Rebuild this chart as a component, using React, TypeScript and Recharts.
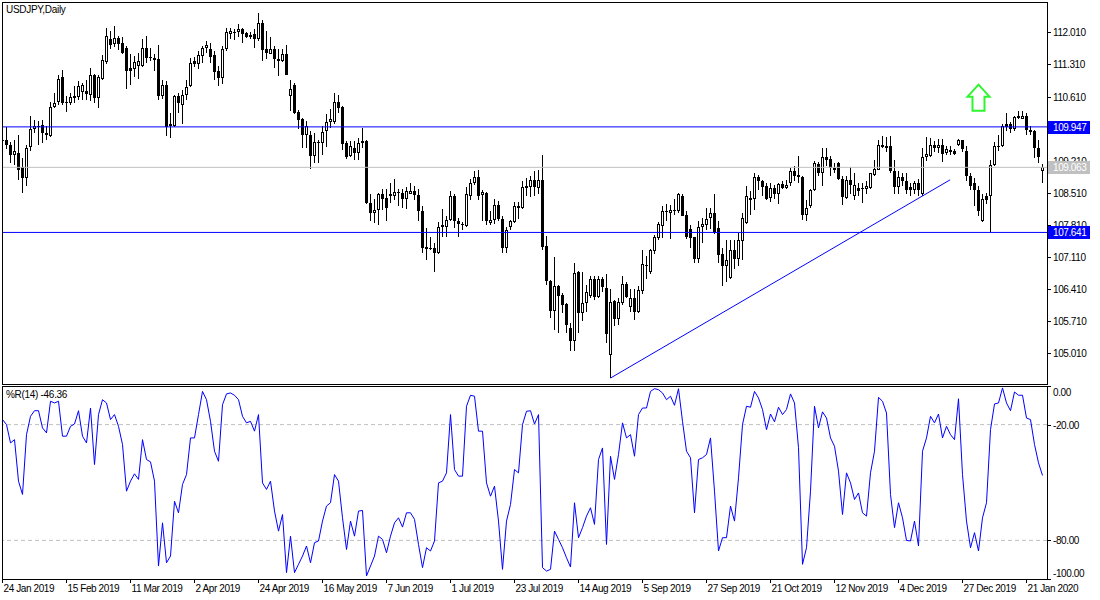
import React from "react";
import { ComposedChart, Bar, Line, XAxis, YAxis, ReferenceLine, ReferenceDot } from "recharts";

// daily USDJPY bars, left to right
const opens = [
  109.66, 109.65, 109.55, 109.33, 109.38, 109.07, 108.84, 109.50, 109.89, 109.97,
  109.99, 109.82, 109.74, 110.38, 110.48, 111.03, 110.50, 110.46, 110.57, 110.60,
  110.70, 110.72, 110.65, 111.07, 110.57, 111.00, 111.36, 111.87, 111.75, 111.89,
  111.78, 111.68, 111.24, 111.22, 111.27, 111.27, 111.68, 111.48, 111.46, 111.42,
  110.63, 110.87, 110.02, 109.97, 110.63, 110.43, 110.64, 110.84, 111.38, 111.33,
  111.49, 111.67, 111.65, 111.51, 111.16, 111.01, 111.65, 111.98, 112.02, 112.02,
  112.09, 112.00, 111.96, 111.97, 111.87, 112.21, 111.64, 111.54, 111.65, 111.43,
  111.38, 111.53, 110.62, 110.87, 110.27, 110.11, 109.76, 109.78, 109.30, 109.60,
  109.60, 109.85, 110.05, 110.05, 110.49, 110.38, 109.60, 109.32, 109.49, 109.38,
  109.60, 109.63, 108.28, 108.07, 108.14, 108.47, 108.39, 108.49, 108.43, 108.53,
  108.50, 108.38, 108.49, 108.55, 108.46, 108.12, 107.28, 107.30, 107.30, 107.19,
  107.77, 107.77, 107.92, 108.44, 107.90, 107.82, 107.79, 108.43, 108.72, 108.85,
  108.46, 108.50, 107.85, 107.92, 108.25, 107.93, 107.30, 107.77, 107.86, 108.22,
  108.17, 108.61, 108.63, 108.79, 108.61, 108.79, 107.35, 106.59, 105.93, 106.48,
  106.28, 106.08, 105.55, 105.28, 106.77, 105.89, 106.11, 106.26, 106.62, 106.23,
  106.62, 106.43, 104.97, 106.15, 105.75, 106.11, 106.52, 106.02, 106.21, 105.91,
  106.37, 106.94, 106.77, 107.23, 107.52, 107.79, 108.09, 108.07, 108.10, 108.10,
  108.44, 108.03, 107.72, 107.54, 107.06, 107.76, 107.80, 107.95, 108.07, 107.74,
  107.18, 106.90, 106.64, 107.25, 107.06, 107.46, 107.85, 108.34, 108.38, 108.85,
  108.76, 108.66, 108.39, 108.61, 108.49, 108.71, 108.61, 108.72, 108.98, 108.90,
  108.85, 108.03, 108.21, 108.56, 109.14, 108.95, 109.29, 109.25, 109.05, 109.16,
  108.81, 108.39, 108.79, 108.44, 108.61, 108.61, 108.59, 108.61, 108.90, 109.01,
  109.51, 109.52, 109.54, 108.98, 108.63, 108.85, 108.76, 108.63, 108.56, 108.72,
  108.47, 109.29, 109.30, 109.56, 109.49, 109.56, 109.38, 109.45, 109.41, 109.56,
  109.65, 109.41, 108.88, 108.73, 108.56, 107.88, 108.43, 108.43, 109.12, 109.54,
  109.52, 110.00, 110.00, 109.90, 110.18, 110.12, 110.19, 109.87, 109.85, 109.49,
  108.98,
];
const highs = [
  109.72, 109.95, 109.61, 109.67, 109.76, 109.27, 109.56, 110.18, 110.09, 110.07,
  110.09, 109.96, 110.48, 110.68, 111.07, 111.18, 110.62, 110.68, 110.85, 110.94,
  110.91, 110.98, 111.24, 111.11, 111.09, 111.51, 112.11, 112.04, 112.16, 111.94,
  111.92, 111.71, 111.53, 111.49, 111.57, 111.86, 111.93, 111.68, 111.53, 111.73,
  110.97, 110.94, 110.25, 110.65, 110.68, 110.76, 110.97, 111.46, 111.48, 111.60,
  111.71, 111.83, 111.77, 111.60, 111.27, 111.71, 112.11, 112.11, 112.09, 112.19,
  112.10, 112.02, 112.02, 112.08, 112.43, 112.28, 112.04, 111.92, 111.71, 111.64,
  111.65, 111.73, 110.98, 110.90, 110.31, 110.14, 110.07, 109.85, 109.82, 109.67,
  109.96, 110.22, 110.33, 110.69, 110.65, 110.40, 109.63, 109.63, 109.63, 109.71,
  109.92, 109.65, 108.47, 108.37, 108.50, 108.58, 108.59, 108.73, 108.81, 108.58,
  108.59, 108.63, 108.73, 108.66, 108.59, 108.21, 107.74, 107.54, 107.42, 107.86,
  108.15, 107.99, 108.54, 108.49, 107.96, 107.86, 108.63, 108.81, 108.98, 109.01,
  108.56, 108.52, 108.12, 108.37, 108.32, 108.01, 107.77, 107.92, 108.30, 108.31,
  108.76, 108.83, 108.87, 108.98, 109.01, 109.34, 107.57, 106.61, 107.10, 106.50,
  106.32, 106.10, 105.66, 106.97, 106.79, 106.77, 106.50, 106.69, 106.69, 106.68,
  106.67, 106.74, 106.40, 106.17, 106.21, 106.69, 106.55, 106.40, 106.40, 106.48,
  107.25, 107.12, 107.28, 107.59, 107.86, 108.22, 108.27, 108.25, 108.37, 108.50,
  108.49, 108.10, 107.81, 107.55, 107.90, 107.96, 108.17, 108.17, 108.49, 107.90,
  107.30, 107.48, 107.47, 107.47, 107.63, 108.07, 108.65, 108.54, 108.93, 108.90,
  108.79, 108.72, 108.72, 108.68, 108.73, 108.76, 108.78, 109.05, 109.09, 109.30,
  108.87, 108.36, 108.59, 109.20, 109.17, 109.49, 109.49, 109.32, 109.16, 109.17,
  108.87, 108.87, 109.07, 108.93, 108.73, 108.73, 108.76, 108.95, 109.23, 109.67,
  109.74, 109.73, 109.74, 109.23, 108.98, 108.94, 108.94, 108.73, 108.76, 108.81,
  109.49, 109.73, 109.71, 109.63, 109.68, 109.68, 109.52, 109.54, 109.47, 109.68,
  109.67, 109.52, 108.93, 108.83, 108.65, 108.47, 108.50, 109.23, 109.61, 109.78,
  110.00, 110.24, 110.05, 110.19, 110.29, 110.29, 110.24, 109.96, 109.87, 109.67,
  109.14,
];
const lows = [
  109.55, 109.47, 109.16, 109.12, 108.79, 108.50, 108.65, 109.43, 109.82, 109.56,
  109.60, 109.65, 109.72, 110.36, 110.43, 110.43, 110.27, 110.43, 110.46, 110.53,
  110.54, 110.54, 110.51, 110.47, 110.36, 110.98, 111.33, 111.64, 111.70, 111.62,
  111.53, 110.78, 110.87, 111.04, 111.00, 111.25, 111.35, 111.38, 111.16, 110.54,
  110.56, 109.74, 109.71, 109.94, 110.25, 110.02, 110.53, 110.82, 111.25, 111.22,
  111.35, 111.57, 111.35, 110.98, 110.84, 110.89, 111.60, 111.87, 111.84, 111.92,
  111.78, 111.89, 111.86, 111.68, 111.82, 111.38, 111.42, 111.53, 111.24, 111.05,
  111.36, 111.07, 110.29, 110.22, 109.89, 109.49, 109.49, 109.03, 109.16, 109.16,
  109.34, 109.51, 109.92, 110.02, 110.25, 109.45, 109.25, 109.28, 109.22, 109.23,
  109.49, 108.27, 107.88, 107.85, 107.81, 108.14, 107.88, 108.28, 108.36, 108.21,
  108.18, 108.15, 108.47, 108.36, 107.88, 107.19, 107.04, 107.25, 106.77, 107.17,
  107.55, 107.55, 107.88, 107.74, 107.54, 107.70, 107.76, 108.36, 108.68, 108.34,
  107.88, 107.81, 107.81, 107.83, 107.90, 107.20, 107.20, 107.70, 107.85, 107.93,
  108.15, 108.43, 108.42, 108.44, 108.49, 107.26, 106.50, 105.77, 105.50, 105.45,
  105.88, 105.44, 105.04, 105.06, 105.44, 105.70, 105.91, 106.21, 106.17, 106.21,
  106.33, 105.23, 104.46, 105.59, 105.62, 106.06, 106.21, 105.91, 105.72, 105.88,
  106.30, 106.62, 106.74, 107.18, 107.48, 107.52, 107.90, 107.50, 108.03, 108.07,
  107.99, 107.50, 107.30, 106.97, 106.97, 107.42, 107.70, 107.72, 107.60, 106.97,
  106.48, 106.55, 106.62, 106.84, 106.91, 107.03, 107.83, 108.03, 108.14, 108.56,
  108.43, 108.36, 108.30, 108.37, 108.27, 108.59, 108.59, 108.65, 108.76, 108.72,
  107.92, 107.88, 108.18, 108.54, 108.88, 108.66, 109.09, 108.88, 108.94, 108.79,
  108.23, 108.37, 108.47, 108.36, 108.43, 108.28, 108.49, 108.59, 108.87, 109.00,
  109.49, 109.39, 108.94, 108.47, 108.47, 108.65, 108.47, 108.44, 108.47, 108.44,
  108.43, 109.20, 109.29, 109.39, 109.38, 109.17, 109.34, 109.34, 109.34, 109.52,
  109.39, 108.76, 108.56, 108.21, 107.99, 107.86, 108.27, 107.64, 109.10, 109.43,
  109.51, 109.85, 109.82, 109.85, 110.11, 110.11, 109.78, 109.78, 109.27, 109.16,
  108.73,
];
const closes = [
  109.63, 109.56, 109.33, 109.41, 109.01, 108.84, 109.49, 109.89, 109.97, 109.95,
  109.82, 109.76, 110.38, 110.47, 111.00, 110.46, 110.46, 110.60, 110.63, 110.84,
  110.87, 110.66, 111.07, 110.57, 111.03, 111.40, 111.94, 111.73, 111.89, 111.76,
  111.57, 111.16, 111.16, 111.36, 111.38, 111.68, 111.46, 111.45, 111.40, 110.63,
  110.87, 109.95, 109.96, 110.63, 110.47, 110.65, 110.82, 111.35, 111.32, 111.51,
  111.68, 111.73, 111.48, 111.14, 111.01, 111.65, 112.03, 112.04, 112.03, 112.08,
  111.97, 111.92, 111.92, 111.87, 112.21, 111.62, 111.57, 111.65, 111.43, 111.38,
  111.53, 111.09, 110.78, 110.25, 110.09, 109.76, 109.97, 109.30, 109.62, 109.61,
  109.83, 110.05, 110.12, 110.49, 110.36, 109.58, 109.29, 109.54, 109.38, 109.60,
  109.63, 108.28, 108.07, 108.14, 108.47, 108.37, 108.18, 108.43, 108.53, 108.50,
  108.38, 108.55, 108.55, 108.46, 108.10, 107.30, 107.32, 107.31, 107.19, 107.77,
  107.81, 107.92, 108.44, 107.88, 107.83, 107.83, 108.47, 108.73, 108.85, 108.44,
  108.52, 107.88, 107.92, 108.25, 107.93, 107.30, 107.70, 107.88, 108.21, 108.17,
  108.63, 108.66, 108.79, 108.63, 108.78, 107.33, 106.59, 105.93, 106.48, 106.26,
  106.06, 105.62, 105.28, 106.75, 105.89, 106.11, 106.35, 106.62, 106.23, 106.62,
  106.45, 105.42, 106.12, 105.75, 106.12, 106.52, 106.23, 106.21, 105.91, 106.39,
  106.96, 106.90, 107.25, 107.55, 107.83, 108.10, 108.12, 108.14, 108.13, 108.47,
  108.01, 107.55, 107.52, 107.06, 107.77, 107.83, 107.93, 108.07, 107.63, 107.15,
  106.90, 107.04, 107.25, 107.06, 107.48, 107.96, 108.44, 108.39, 108.85, 108.76,
  108.63, 108.38, 108.61, 108.49, 108.71, 108.61, 108.68, 108.98, 108.88, 108.85,
  108.03, 108.17, 108.56, 109.16, 108.95, 109.29, 109.22, 109.05, 109.00, 108.81,
  108.42, 108.79, 108.68, 108.68, 108.54, 108.58, 108.66, 108.93, 109.03, 109.56,
  109.56, 109.49, 108.98, 108.63, 108.85, 108.76, 108.56, 108.56, 108.72, 108.56,
  109.29, 109.36, 109.56, 109.49, 109.56, 109.36, 109.47, 109.39, 109.36, 109.65,
  109.47, 108.87, 108.65, 108.56, 108.10, 108.37, 108.36, 109.12, 109.54, 109.51,
  109.96, 109.95, 109.90, 110.17, 110.14, 110.19, 109.87, 109.83, 109.49, 109.29,
  109.063,
];
// Williams %R(14)
const wpr = [
  -17.4, -20.0, -29.5, -27.8, -49.3, -56.2, -25.2, -15.7, -12.8, -12.8,
  -21.7, -24.3, -7.9, -8.8, -7.9, -26.0, -26.0, -20.9, -19.7, -12.8,
  -26.0, -29.5, -11.4, -40.7, -14.8, -7.1, -8.8, -17.4, -14.8, -20.9,
  -30.3, -54.5, -49.3, -45.5, -48.4, -27.8, -38.1, -39.3, -49.3, -93.3,
  -70.9, -91.6, -88.1, -59.7, -65.7, -51.0, -45.9, -26.9, -26.9, -14.8,
  -2.8, -7.1, -18.3, -33.8, -39.0, -9.7, -4.1, -3.6, -4.8, -7.1,
  -15.7, -19.1, -18.3, -23.4, -14.8, -50.2, -53.6, -49.3, -64.8, -75.2,
  -66.6, -96.7, -77.8, -96.7, -92.4, -88.1, -82.9, -91.6, -81.2, -80.3,
  -70.0, -62.2, -60.5, -45.9, -49.3, -68.3, -84.7, -70.0, -77.8, -64.8,
  -64.5, -98.4, -93.3, -88.1, -77.8, -79.5, -86.4, -77.8, -70.9, -68.3,
  -73.1, -65.7, -65.7, -69.1, -82.1, -94.1, -83.8, -85.5, -80.3, -50.2,
  -49.3, -45.0, -14.8, -43.3, -46.7, -46.7, -10.5, -4.8, -5.3, -23.4,
  -23.4, -50.2, -57.1, -51.9, -70.0, -95.0, -70.0, -61.4, -43.3, -45.0,
  -20.0, -13.1, -12.8, -19.7, -14.8, -94.1, -95.9, -95.0, -75.2, -79.5,
  -83.8, -89.0, -93.8, -60.5, -78.6, -73.4, -67.4, -63.1, -71.7, -38.1,
  -32.1, -82.1, -36.4, -48.4, -35.5, -19.1, -26.9, -25.2, -36.4, -14.8,
  -11.4, -11.4, -2.8, -1.4, -1.9, -3.6, -7.1, -5.3, -10.0, -1.4,
  -18.3, -33.8, -37.2, -65.7, -38.1, -37.2, -35.5, -26.9, -54.5, -85.5,
  -78.6, -78.6, -62.2, -70.0, -47.6, -20.0, -10.5, -11.0, -2.8, -6.2,
  -12.2, -22.6, -14.5, -18.6, -11.0, -14.8, -12.2, -4.1, -8.8, -32.0,
  -92.4, -83.8, -54.5, -10.5, -21.7, -13.4, -16.6, -26.9, -31.2, -44.1,
  -66.6, -45.0, -50.2, -58.8, -55.4, -65.7, -67.4, -45.0, -33.8, -5.9,
  -7.9, -14.0, -56.2, -73.4, -60.5, -68.3, -80.0, -80.3, -70.0, -82.9,
  -33.8, -26.9, -15.7, -19.1, -14.5, -26.9, -20.9, -25.2, -27.8, -6.6,
  -45.9, -70.0, -83.8, -76.0, -85.5, -68.3, -60.5, -22.6, -9.3, -8.8,
  -1.0, -8.8, -12.8, -3.1, -4.8, -4.8, -16.6, -17.4, -30.3, -39.8,
  -46.36,
];

const dateLabels = [
  "24 Jan 2019", "15 Feb 2019", "11 Mar 2019", "2 Apr 2019", "24 Apr 2019", "16 May 2019",
  "7 Jun 2019", "1 Jul 2019", "23 Jul 2019", "14 Aug 2019", "5 Sep 2019", "27 Sep 2019",
  "21 Oct 2019", "12 Nov 2019", "4 Dec 2019", "27 Dec 2019", "21 Jan 2020",
];
const dateTickBars = [0, 16, 32, 48, 64, 80, 96, 112, 128, 144, 160, 176, 192, 208, 224, 240, 256];

const priceTicks = [105.01, 105.71, 106.41, 107.11, 107.81, 108.51, 109.21, 109.91, 110.61, 111.31, 112.01];
const wprTicks = [0, -20, -80, -100];

const resistance = 109.947;
const support = 107.641;
const lastPrice = 109.063;
const trendStart = { bar: 152, price: 104.46 };
const trendEnd = { bar: 236.9, price: 108.79 };
const arrowAt = { bar: 244, price: 110.87 };

const candles = opens.map((open, i) => ({
  i,
  open,
  high: highs[i],
  low: lows[i],
  close: closes[i],
  wpr: wpr[i],
}));

const FONT = "'Liberation Sans', Arial, sans-serif";
const PLOT_R = 1047;
const barDomain = [-0.125, 261.125];
const priceDomain = [104.33, 112.675];

const boxColors: Record<string, string> = {
  [resistance.toFixed(3)]: "#0000ff",
  [support.toFixed(3)]: "#0000ff",
  [lastPrice.toFixed(3)]: "#c0c0c0",
};

function Candle(props: any) {
  const { x, y, width, height, payload } = props;
  if (!payload) return null;
  const { open, high, low, close } = payload;
  const top = Math.min(y, y + height);
  const ppu = Math.abs(height) / (high - low);
  const py = (v: number) => top + (high - v) * ppu;
  const cx = Math.floor(x + width / 2) + 0.5;
  const bTop = Math.round(py(Math.max(open, close)));
  const bBot = Math.round(py(Math.min(open, close)));
  const wTop = Math.round(py(high));
  const wBot = Math.round(py(low));
  let body;
  if (bBot - bTop <= 1) {
    body = <line x1={cx - 1.5} x2={cx + 1.5} y1={bTop + 0.5} y2={bTop + 0.5} stroke="#000" />;
  } else if (close >= open) {
    body = <rect x={cx - 1} y={bTop + 0.5} width={2} height={bBot - bTop - 1} fill="#fff" stroke="#000" />;
  } else {
    body = <rect x={cx - 1.5} y={bTop} width={3} height={bBot - bTop} fill="#000" />;
  }
  return (
    <g>
      <line x1={cx} x2={cx} y1={wTop} y2={Math.max(wBot, wTop + 1)} stroke="#000" />
      {body}
    </g>
  );
}

function UpArrow(props: any) {
  const { cx, cy } = props;
  const d = `M${cx},${cy} L${cx + 11},${cy + 12} L${cx + 6},${cy + 12} L${cx + 6},${cy + 26} L${cx - 6},${cy + 26} L${cx - 6},${cy + 12} L${cx - 11},${cy + 12} Z`;
  return <path d={d} fill="#fff" stroke="#2ef52e" strokeWidth={2} />;
}

function PriceTick(props: any) {
  const { y, payload } = props;
  const label = Number(payload.value).toFixed(3);
  const box = boxColors[label];
  const ly = Math.round(y) + 0.5;
  if (box) {
    return (
      <g>
        <rect x={PLOT_R + 1} y={Math.round(y) - 6} width={42} height={13} fill={box} />
        <text x={PLOT_R + 6} y={ly} dy="0.35em" fill="#fff" fontSize={10} fontFamily={FONT} letterSpacing={-0.4}>
          {label}
        </text>
      </g>
    );
  }
  return (
    <g>
      <line x1={PLOT_R} x2={PLOT_R + 4} y1={ly} y2={ly} stroke="#000" />
      <text x={PLOT_R + 6} y={ly} dy="0.35em" fill="#000" fontSize={10} fontFamily={FONT} letterSpacing={-0.4}>
        {label}
      </text>
    </g>
  );
}

function WprTick(props: any) {
  const { y, payload } = props;
  const v = Number(payload.value);
  const ly = Math.round(y) + 0.5;
  const shift = v === 0 ? 6 : v === -100 ? -6 : 0;
  return (
    <g>
      <line x1={PLOT_R} x2={PLOT_R + 4} y1={ly} y2={ly} stroke="#000" />
      <text x={PLOT_R + 6} y={ly + shift} dy="0.35em" fill="#000" fontSize={10} fontFamily={FONT} letterSpacing={-0.4}>
        {v.toFixed(2)}
      </text>
    </g>
  );
}

function DateTick(props: any) {
  const { x, y, payload } = props;
  const n = dateTickBars.indexOf(payload.value);
  const tx = Math.floor(x) + 0.5;
  return (
    <g>
      <line x1={tx} x2={tx} y1={y} y2={y + 4} stroke="#000" />
      <text x={tx + 1} y={y + 13} fill="#000" fontSize={10} fontFamily={FONT} letterSpacing={-0.4}>
        {dateLabels[n]}
      </text>
    </g>
  );
}

const labelStyle: React.CSSProperties = {
  position: "absolute",
  fontFamily: FONT,
  fontSize: 10,
  lineHeight: "12px",
  letterSpacing: -0.3,
  color: "#000",
  whiteSpace: "nowrap",
};

export default function App() {
  return (
    <div style={{ position: "absolute", left: 0, top: 0, width: 1100, height: 600, background: "#fff", overflow: "hidden" }}>
      <div style={{ position: "absolute", left: 0, top: 0 }}>
        <ComposedChart width={1100} height={386} data={candles} margin={{ top: 2, right: 0, bottom: 2, left: 2 }}>
          <XAxis type="number" dataKey="i" domain={barDomain} allowDataOverflow hide />
          <YAxis
            orientation="right"
            width={53}
            domain={priceDomain}
            allowDataOverflow
            ticks={[...priceTicks, resistance, support, lastPrice]}
            interval={0}
            axisLine={false}
            tickLine={false}
            tick={(p: any) => <PriceTick {...p} />}
          />
          <ReferenceLine y={lastPrice} stroke="#c0c0c0" />
          <ReferenceLine y={resistance} stroke="#0000ff" />
          <ReferenceLine y={support} stroke="#0000ff" />
          <ReferenceLine
            segment={[
              { x: trendStart.bar, y: trendStart.price },
              { x: trendEnd.bar, y: trendEnd.price },
            ]}
            stroke="#0000ff"
          />
          <Bar dataKey={(d: any) => [d.low, d.high]} barSize={3} shape={Candle} isAnimationActive={false} />
          <ReferenceDot x={arrowAt.bar} y={arrowAt.price} shape={UpArrow} />
        </ComposedChart>
      </div>
      <div style={{ position: "absolute", left: 0, top: 386 }}>
        <ComposedChart width={1100} height={214} data={candles} margin={{ top: 0, right: 0, bottom: 0, left: 2 }}>
          <XAxis
            type="number"
            dataKey="i"
            domain={barDomain}
            allowDataOverflow
            ticks={dateTickBars}
            interval={0}
            height={21}
            axisLine={false}
            tickLine={false}
            tickSize={0}
            tickMargin={0}
            tick={(p: any) => <DateTick {...p} />}
          />
          <YAxis
            orientation="right"
            width={53}
            domain={[-100, 0]}
            allowDataOverflow
            ticks={wprTicks}
            interval={0}
            axisLine={false}
            tickLine={false}
            tick={(p: any) => <WprTick {...p} />}
          />
          <ReferenceLine y={-20} stroke="#c0c0c0" strokeDasharray="4 3" />
          <ReferenceLine y={-80} stroke="#c0c0c0" strokeDasharray="4 3" />
          <Line type="linear" dataKey="wpr" stroke="#0000ff" strokeWidth={1} dot={false} isAnimationActive={false} />
        </ComposedChart>
      </div>
      <div style={{ position: "absolute", left: 2, top: 2, width: 1046, height: 383, border: "1px solid #000", boxSizing: "border-box", pointerEvents: "none" }} />
      <div style={{ position: "absolute", left: 2, top: 386, width: 1046, height: 194, border: "1px solid #000", boxSizing: "border-box", pointerEvents: "none" }} />
      <div style={{ ...labelStyle, left: 6, top: 4 }}>USDJPY,Daily</div>
      <div style={{ ...labelStyle, left: 6, top: 389 }}>%R(14) -46.36</div>
    </div>
  );
}
